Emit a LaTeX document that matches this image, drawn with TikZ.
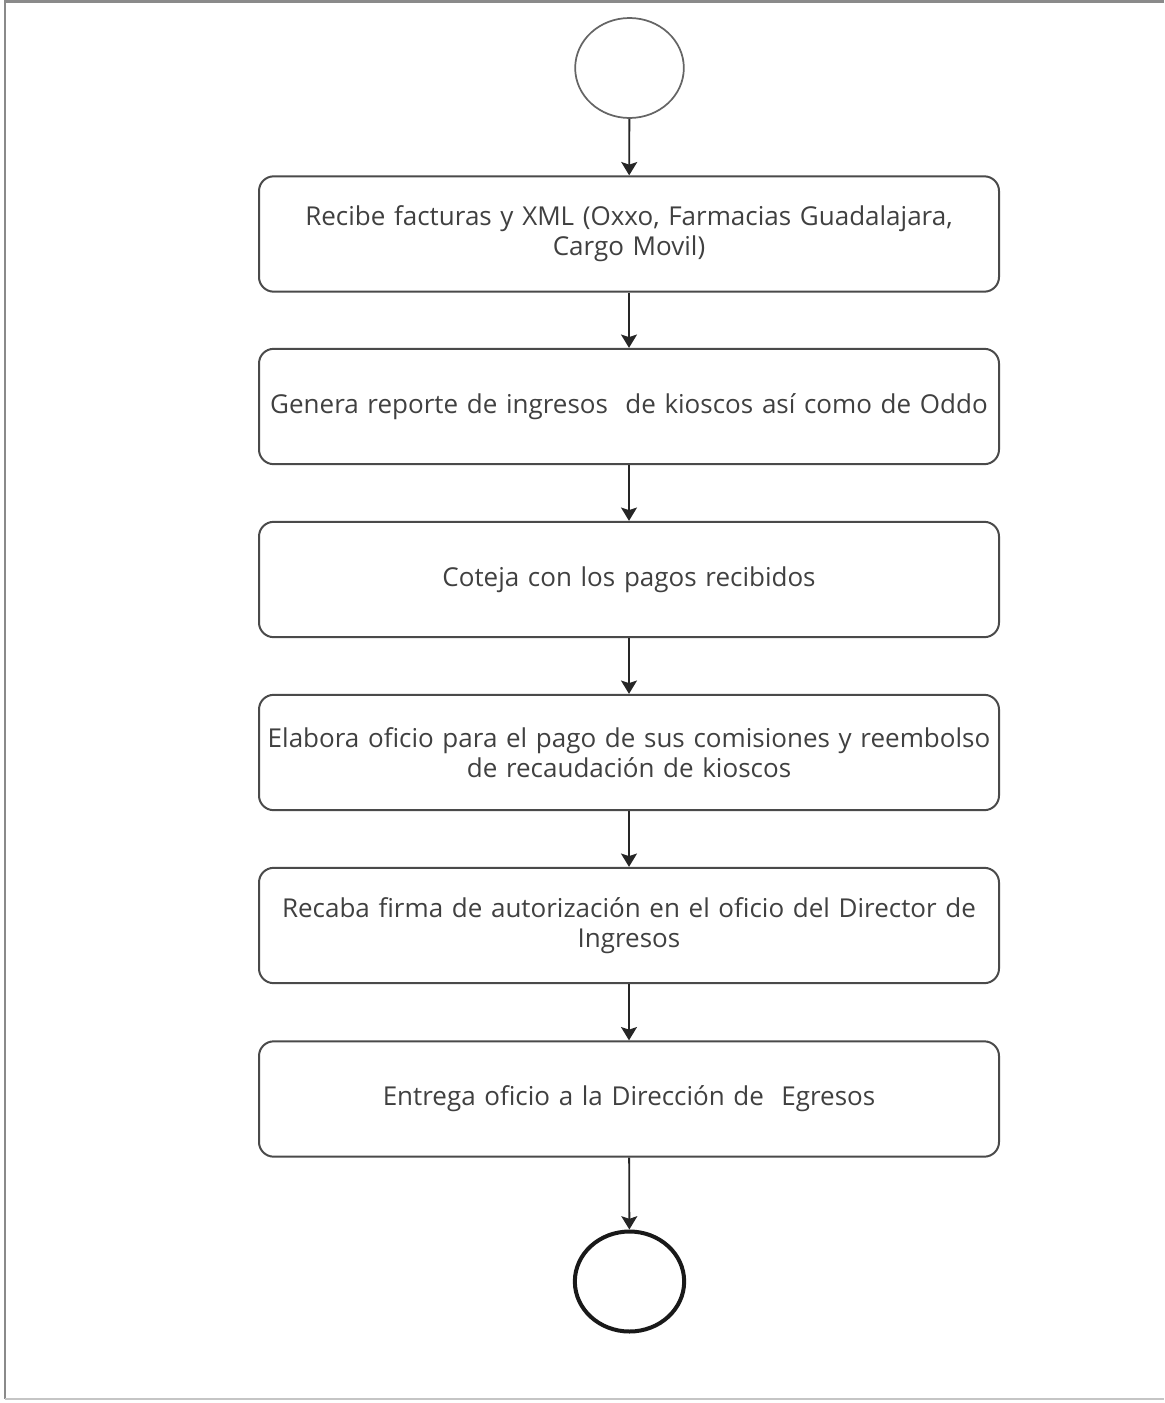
\documentclass[tikz,border=0pt]{standalone}
\usepackage{fontspec}
\setmainfont{Open Sans}
\usetikzlibrary{arrows.meta,shapes.geometric}
\definecolor{boxline}{HTML}{4A4A4A}
\definecolor{txt}{HTML}{404040}
\definecolor{frame}{HTML}{8A8A8A}
\tikzset{
  px/.style={x=0.75pt,y=-0.75pt},
  stepbox/.style={draw=boxline,line width=1.5pt,rounded corners=11pt,
    minimum width=555pt,minimum height=86.5pt,text width=553pt,align=center,
    text=txt,font=\fontsize{19.5}{22.5}\selectfont,inner sep=0pt},
  startnode/.style={ellipse,draw=boxline!85,line width=1.3pt,minimum width=81.5pt,minimum height=75pt,inner sep=0pt},
  endnode/.style={ellipse,draw=black!90,line width=3pt,minimum width=82pt,minimum height=75pt,inner sep=0pt},
  flow/.style={draw=black!85,line width=1.4pt,-{Stealth[length=10pt,width=12pt,inset=2pt]}}
}
\begin{document}
\begin{tikzpicture}[px]
\useasboundingbox (0,0) rectangle (1164,1403);
\draw[frame,line width=1.6pt] (1164,1.5) -- (5,1.5) -- (5,1399);
\draw[frame!50,line width=1.2pt] (5,1399) -- (1164,1399);
\node[stepbox] (b1) at (629,234) {Recibe facturas y XML (Oxxo, Farmacias Guadalajara,\\ Cargo Movil)};
\node[startnode] (s) at (629.5,68) {};
\node[stepbox] (b2) at (629,406.5) {Genera reporte de ingresos\ \ de kioscos así como de Oddo};
\node[stepbox] (b3) at (629,579.5) {Coteja con los pagos recibidos};
\node[stepbox] (b4) at (629,752.5) {Elabora oficio para el pago de sus comisiones y reembolso\\ de recaudación de kioscos};
\node[stepbox] (b5) at (629,925.5) {Recaba firma de autorización en el oficio del Director de\\ Ingresos};
\node[stepbox] (b6) at (629,1099) {Entrega oficio a la Dirección de\ \ Egresos};
\node[endnode] (e) at (629.5,1281.5) {};
\draw[flow] (s) -- (b1);
\draw[flow] (b1) -- (b2);
\draw[flow] (b2) -- (b3);
\draw[flow] (b3) -- (b4);
\draw[flow] (b4) -- (b5);
\draw[flow] (b5) -- (b6);
\draw[flow] (b6) -- (e);
\end{tikzpicture}
\end{document}
